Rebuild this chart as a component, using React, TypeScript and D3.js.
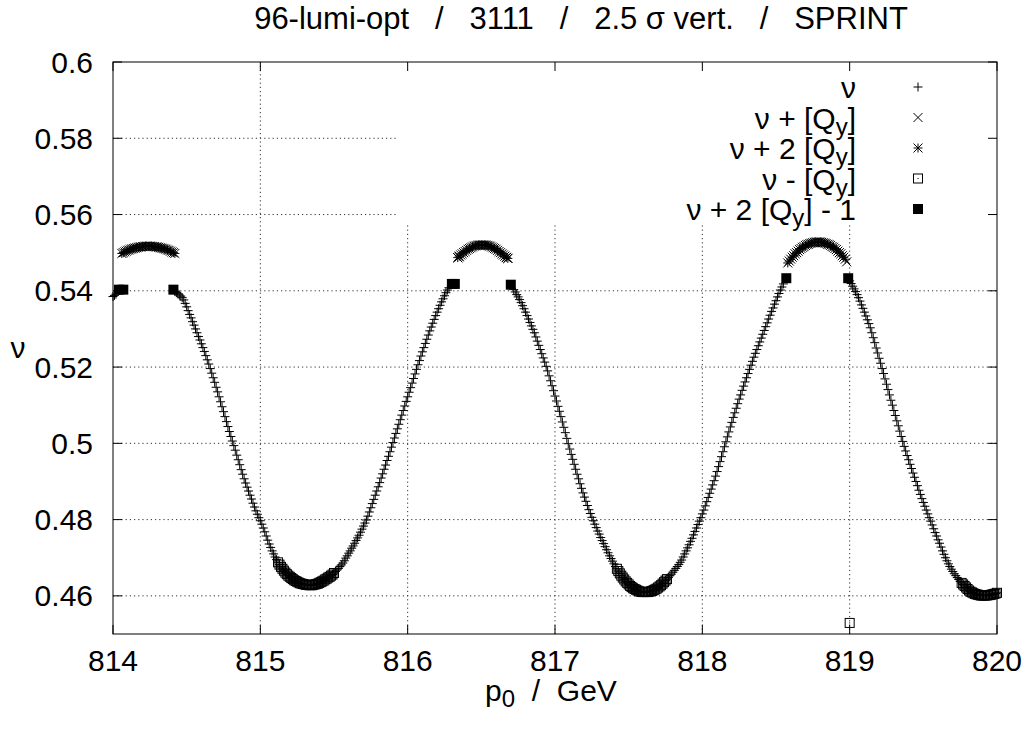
import React from "react";
import * as d3 from "d3";

// ---------------- data ----------------
const STEP = 0.01;
const xTicks = [814, 815, 816, 817, 818, 819, 820];
const yTicks = [0.6, 0.58, 0.56, 0.54, 0.52, 0.5, 0.48, 0.46];
const yTickLabels = ["0.6", "0.58", "0.56", "0.54", "0.52", "0.5", "0.48", "0.46"];

// main series "ν" (+), segments starting at given p0, sampled every STEP
const nuMainStartA = 814.0;
const nuMainA = [0.5385, 0.5388, 0.5391];
const nuMainStartB = 814.42;
const nuMainB = [
  0.5398, 0.5395, 0.5392, 0.5389, 0.5386, 0.5382, 0.5376, 0.5367, 0.5358, 0.5348,
  0.5338, 0.5329, 0.5319, 0.531, 0.53, 0.529, 0.528, 0.5271, 0.5261, 0.5251,
  0.5241, 0.523, 0.5219, 0.5208, 0.5196, 0.5184, 0.5172, 0.516, 0.5147, 0.5135,
  0.5122, 0.5109, 0.5096, 0.5083, 0.507, 0.5057, 0.5044, 0.5031, 0.5018, 0.5006,
  0.4994, 0.4982, 0.4969, 0.4957, 0.4944, 0.4931, 0.4919, 0.4907, 0.4896, 0.4885,
  0.4875, 0.4864, 0.4854, 0.4843, 0.4833, 0.4823, 0.4814, 0.4805, 0.4797, 0.4788,
  0.4778, 0.4768, 0.4757, 0.4746, 0.4736, 0.4727, 0.4718, 0.471, 0.4702, 0.4695,
  0.4688, 0.4682, 0.4676, 0.4671, 0.4666, 0.4661, 0.4657, 0.4653, 0.465, 0.4647,
  0.4644, 0.4641, 0.4639, 0.4637, 0.4635, 0.4633, 0.4632, 0.4631, 0.463, 0.4629,
  0.4629, 0.4628, 0.4628, 0.4628, 0.4629, 0.463, 0.4631, 0.4632, 0.4634, 0.4636,
  0.4638, 0.464, 0.4643, 0.4645, 0.4648, 0.465, 0.4653, 0.4656, 0.466, 0.4664,
  0.4668, 0.4672, 0.4677, 0.4681, 0.4686, 0.4692, 0.4699, 0.4705, 0.4712, 0.4718,
  0.4725, 0.4731, 0.4738, 0.4745, 0.4752, 0.4759, 0.4767, 0.4775, 0.4783, 0.4791,
  0.4799, 0.4809, 0.482, 0.4831, 0.4842, 0.4853, 0.4864, 0.4875, 0.4886, 0.4897,
  0.4909, 0.492, 0.4932, 0.4943, 0.4955, 0.4966, 0.4978, 0.499, 0.5002, 0.5014,
  0.5026, 0.5038, 0.505, 0.5062, 0.5074, 0.5086, 0.5098, 0.511, 0.5122, 0.5134,
  0.5146, 0.5158, 0.517, 0.5182, 0.5194, 0.5206, 0.5217, 0.5229, 0.524, 0.5251,
  0.5262, 0.5273, 0.5284, 0.5295, 0.5305, 0.5315, 0.5325, 0.5335, 0.5344, 0.5353,
  0.5362, 0.5371, 0.5379, 0.5387, 0.5395, 0.5402, 0.5408,
];
const nuMainStartC = 816.72;
const nuMainC = [
  0.5403, 0.5397, 0.539, 0.5384, 0.5377, 0.5369, 0.5361, 0.5353, 0.5344, 0.5335,
  0.5326, 0.5317, 0.5308, 0.5299, 0.529, 0.5279, 0.5268, 0.5257, 0.5246, 0.5235,
  0.5224, 0.5213, 0.5202, 0.519, 0.5177, 0.5164, 0.5151, 0.5138, 0.5124, 0.5111,
  0.5097, 0.5084, 0.507, 0.5056, 0.5042, 0.5028, 0.5013, 0.4999, 0.4985, 0.4971,
  0.4958, 0.4945, 0.4932, 0.4919, 0.4907, 0.4894, 0.4882, 0.487, 0.4859, 0.4848,
  0.4837, 0.4826, 0.4816, 0.4806, 0.4797, 0.4788, 0.4779, 0.477, 0.4762, 0.4753,
  0.4745, 0.4737, 0.4729, 0.4721, 0.4713, 0.4705, 0.4698, 0.4691, 0.4684, 0.4677,
  0.4671, 0.4665, 0.4659, 0.4653, 0.4648, 0.4643, 0.4638, 0.4634, 0.463, 0.4626,
  0.4623, 0.462, 0.4618, 0.4616, 0.4614, 0.4612, 0.4611, 0.461, 0.461, 0.461,
  0.461, 0.461, 0.4611, 0.4612, 0.4613, 0.4615, 0.4617, 0.4619, 0.4622, 0.4625,
  0.4628, 0.4632, 0.4636, 0.464, 0.4644, 0.4648, 0.4653, 0.4657, 0.4662, 0.4667,
  0.4672, 0.4677, 0.4682, 0.4688, 0.4694, 0.4702, 0.471, 0.4718, 0.4726, 0.4734,
  0.4743, 0.4751, 0.476, 0.4769, 0.4778, 0.4787, 0.4796, 0.4805, 0.4815, 0.4825,
  0.4836, 0.4847, 0.4858, 0.4869, 0.488, 0.4891, 0.4902, 0.4914, 0.4926, 0.4939,
  0.4952, 0.4965, 0.4978, 0.4991, 0.5004, 0.5017, 0.503, 0.5043, 0.5055, 0.5068,
  0.508, 0.5092, 0.5104, 0.5116, 0.5127, 0.5139, 0.515, 0.5161, 0.5172, 0.5183,
  0.5194, 0.5205, 0.5215, 0.5226, 0.5236, 0.5246, 0.5256, 0.5266, 0.5276, 0.5286,
  0.5296, 0.5306, 0.5316, 0.5326, 0.5336, 0.5346, 0.5355, 0.5365, 0.5374, 0.5384,
  0.5393, 0.5402, 0.541, 0.5418,
];
const nuMainStartD = 819.0;
const nuMainD = [
  0.5426, 0.5419, 0.5412, 0.5405, 0.5398, 0.539, 0.5382, 0.5373, 0.5363, 0.5354,
  0.5344, 0.5334, 0.5324, 0.5314, 0.5303, 0.529, 0.5277, 0.5264, 0.525, 0.5237,
  0.5223, 0.521, 0.5196, 0.5183, 0.5169, 0.5155, 0.5141, 0.5127, 0.5113, 0.51,
  0.5086, 0.5073, 0.5059, 0.5046, 0.5032, 0.5018, 0.5005, 0.4992, 0.498, 0.4968,
  0.4957, 0.4945, 0.4934, 0.4922, 0.4911, 0.49, 0.4889, 0.4877, 0.4866, 0.4855,
  0.4845, 0.4835, 0.4825, 0.4815, 0.4805, 0.4796, 0.4786, 0.4776, 0.4766, 0.4757,
  0.4747, 0.4738, 0.4728, 0.4718, 0.4709, 0.47, 0.4692, 0.4684, 0.4677, 0.467,
  0.4664, 0.4658, 0.4653, 0.4648, 0.4643, 0.4638, 0.4634, 0.463, 0.4626, 0.4622,
  0.4618, 0.4614, 0.4611, 0.4609, 0.4607, 0.4605, 0.4604, 0.4603, 0.4602, 0.4601,
  0.4601, 0.4601, 0.4601, 0.4601, 0.4602, 0.4602, 0.4603, 0.4604, 0.4605, 0.4606,
  0.4608,
];

// "ν + 2 [Qy]" (*) arches at the maxima
const nuStarStartA = 814.06;
const nuStarA = [
  0.5498, 0.55, 0.5502, 0.5504, 0.5506, 0.5507, 0.5509, 0.551, 0.5511, 0.5512,
  0.5513, 0.5514, 0.5515, 0.5515, 0.5516, 0.5516, 0.5517, 0.5517, 0.5517, 0.5517,
  0.5517, 0.5516, 0.5516, 0.5515, 0.5515, 0.5514, 0.5513, 0.5512, 0.5511, 0.551,
  0.5509, 0.5507, 0.5506, 0.5504, 0.5502, 0.55, 0.5498,
];
const nuStarStartB = 816.34;
const nuStarB = [
  0.5487, 0.5491, 0.5494, 0.5497, 0.55, 0.5503, 0.5506, 0.5509, 0.5511, 0.5513,
  0.5515, 0.5517, 0.5518, 0.5519, 0.552, 0.552, 0.552, 0.552, 0.552, 0.552,
  0.5519, 0.5518, 0.5517, 0.5515, 0.5513, 0.5511, 0.5509, 0.5506, 0.5503, 0.55,
  0.5497, 0.5494, 0.5491, 0.5488, 0.5485,
];
const nuStarStartC = 818.58;
const nuStarC = [
  0.5473, 0.5478, 0.5483, 0.5488, 0.5492, 0.5497, 0.55, 0.5504, 0.5508, 0.5511,
  0.5514, 0.5516, 0.5519, 0.5521, 0.5522, 0.5524, 0.5525, 0.5526, 0.5527, 0.5528,
  0.5528, 0.5528, 0.5528, 0.5527, 0.5526, 0.5525, 0.5524, 0.5522, 0.5521, 0.5519,
  0.5516, 0.5514, 0.5511, 0.5508, 0.5504, 0.55, 0.5497, 0.5492, 0.5488, 0.5483,
];

// "ν + [Qy]" (×)
const pCross = [816.34, 816.35, 816.67, 816.68, 818.98];
const nuCross = [0.5487, 0.5489, 0.5487, 0.5485, 0.5476];

// "ν - [Qy]" (hollow boxes) in the minima
const nuBoxStartA = 815.12;
const nuBoxA = [
  0.4688, 0.4682, 0.4676, 0.4671, 0.4666, 0.4661, 0.4657, 0.4653, 0.465, 0.4647,
  0.4644, 0.4641, 0.4639, 0.4637, 0.4635, 0.4633, 0.4632, 0.4631, 0.463, 0.4629,
  0.4629, 0.4628, 0.4628, 0.4628, 0.4629, 0.463, 0.4631, 0.4632, 0.4634, 0.4636,
  0.4638, 0.464, 0.4643, 0.4645, 0.4648, 0.465, 0.4653, 0.4656, 0.466,
];
const nuBoxStartB = 817.42;
const nuBoxB = [
  0.4671, 0.4665, 0.4659, 0.4653, 0.4648, 0.4643, 0.4638, 0.4634, 0.463, 0.4626,
  0.4623, 0.462, 0.4618, 0.4616, 0.4614, 0.4612, 0.4611, 0.461, 0.461, 0.461,
  0.461, 0.461, 0.4611, 0.4612, 0.4613, 0.4615, 0.4617, 0.4619, 0.4622, 0.4625,
  0.4628, 0.4632, 0.4636, 0.464, 0.4644,
];
const nuBoxStartC = 819.76;
const nuBoxC = [
  0.4634, 0.463, 0.4626, 0.4622, 0.4618, 0.4614, 0.4611, 0.4609, 0.4607, 0.4605,
  0.4604, 0.4603, 0.4602, 0.4601, 0.4601, 0.4601, 0.4601, 0.4601, 0.4602, 0.4602,
  0.4603, 0.4604, 0.4605, 0.4606, 0.4608,
];
const pBoxExtra = [819.0];
const nuBoxExtra = [0.4529];

// "ν + 2 [Qy] - 1" (filled boxes)
const pFilled = [814.04, 814.07, 814.41, 816.3, 816.32, 816.7, 818.57, 818.99];
const nuFilled = [0.5403, 0.5403, 0.5403, 0.5418, 0.5418, 0.5416, 0.5433, 0.5433];

// ---------------- helpers ----------------
type Pt = [number, number];
const seg = (start: number, vals: number[]): Pt[] =>
  vals.map((v, i) => [+(start + i * STEP).toFixed(3), v]);
const pairs = (ps: number[], vs: number[]): Pt[] => ps.map((p, i) => [p, vs[i]]);

const mainPts = [
  ...seg(nuMainStartA, nuMainA),
  ...seg(nuMainStartB, nuMainB),
  ...seg(nuMainStartC, nuMainC),
  ...seg(nuMainStartD, nuMainD),
];
const starPts = [
  ...seg(nuStarStartA, nuStarA),
  ...seg(nuStarStartB, nuStarB),
  ...seg(nuStarStartC, nuStarC),
];
const crossPts = pairs(pCross, nuCross);
const boxPts = [
  ...seg(nuBoxStartA, nuBoxA),
  ...seg(nuBoxStartB, nuBoxB),
  ...seg(nuBoxStartC, nuBoxC),
  ...pairs(pBoxExtra, nuBoxExtra),
];
const filledPts = pairs(pFilled, nuFilled);

const W = 1026;
const H = 732;
const L = 113, R = 997, T = 62, B = 634;
const x = d3.scaleLinear().domain([814, 820]).range([L, R]);
const y = d3.scaleLinear().domain([0.45, 0.6]).range([B, T]);

const FONT = "'Liberation Sans', Arial, Helvetica, sans-serif";
const S = 4.5;
const plusPath = `M${-S},0H${S}M0,${-S}V${S}`;
const crossPath = `M${-S},${-S}L${S},${S}M${-S},${S}L${S},${-S}`;
const starPath = plusPath + crossPath;

function Marker({ kind, cx, cy }: { kind: string; cx: number; cy: number }) {
  const t = `translate(${cx},${cy})`;
  if (kind === "plus") return <path d={plusPath} transform={t} stroke="#000" strokeWidth={1} fill="none" />;
  if (kind === "cross") return <path d={crossPath} transform={t} stroke="#000" strokeWidth={1} fill="none" />;
  if (kind === "star") return <path d={starPath} transform={t} stroke="#000" strokeWidth={1} fill="none" />;
  if (kind === "box")
    return (
      <g transform={t}>
        <rect x={-S} y={-S} width={2 * S} height={2 * S} stroke="#000" strokeWidth={1} fill="none" />
        <rect x={-0.5} y={-0.5} width={1} height={1} fill="#000" />
      </g>
    );
  return <rect x={cx - 5} y={cy - 5} width={10} height={10} fill="#000" />;
}

const legendRows = [
  { kind: "plus", parts: [["ν", ""]] },
  { kind: "cross", parts: [["ν + [Q", ""], ["y", "sub"], ["]", ""]] },
  { kind: "star", parts: [["ν + 2 [Q", ""], ["y", "sub"], ["]", ""]] },
  { kind: "box", parts: [["ν - [Q", ""], ["y", "sub"], ["]", ""]] },
  { kind: "filled", parts: [["ν + 2 [Q", ""], ["y", "sub"], ["] - 1", ""]] },
];

export default function App() {
  const fs = 30;
  const subFs = 24;
  return (
    <svg
      width={W}
      height={H}
      style={{ position: "absolute", left: 0, top: 0, background: "#fff" }}
      fontFamily={FONT}
    >
      <rect x={0} y={0} width={W} height={H} fill="#fff" />
      {/* grid */}
      <g stroke="#333" strokeWidth={1} strokeDasharray="1.2,3">
        {xTicks.slice(1, -1).map((t) => (
          <line key={"gx" + t} x1={x(t)} x2={x(t)} y1={B} y2={T} />
        ))}
        {yTicks.slice(1).map((t) => (
          <line key={"gy" + t} x1={L} x2={R} y1={y(t)} y2={y(t)} />
        ))}
      </g>
      {/* opaque key area */}
      <rect x={396} y={T} width={R - 396} height={223 - T} fill="#fff" />
      {/* data */}
      <g>
        {boxPts.map((d, i) => <Marker key={"b" + i} kind="box" cx={x(d[0])} cy={y(d[1])} />)}
        {mainPts.map((d, i) => <Marker key={"m" + i} kind="plus" cx={x(d[0])} cy={y(d[1])} />)}
        {crossPts.map((d, i) => <Marker key={"c" + i} kind="cross" cx={x(d[0])} cy={y(d[1])} />)}
        {starPts.map((d, i) => <Marker key={"s" + i} kind="star" cx={x(d[0])} cy={y(d[1])} />)}
        {filledPts.map((d, i) => <Marker key={"f" + i} kind="filled" cx={x(d[0])} cy={y(d[1])} />)}
      </g>
      {/* border and ticks */}
      <rect x={L} y={T} width={R - L} height={B - T} fill="none" stroke="#000" strokeWidth={1} />
      <g stroke="#000" strokeWidth={1}>
        {xTicks.map((t) => (
          <g key={"tx" + t}>
            <line x1={x(t)} x2={x(t)} y1={B} y2={B - 9} />
            <line x1={x(t)} x2={x(t)} y1={T} y2={T + 9} />
          </g>
        ))}
        {yTicks.map((t) => (
          <g key={"ty" + t}>
            <line x1={L} x2={L + 9} y1={y(t)} y2={y(t)} />
            <line x1={R} x2={R - 9} y1={y(t)} y2={y(t)} />
          </g>
        ))}
      </g>
      {/* tick labels */}
      <g fontSize={fs} fill="#000">
        {xTicks.map((t) => (
          <text key={"lx" + t} x={x(t)} y={671} textAnchor="middle">
            {t}
          </text>
        ))}
        {yTicks.map((t, i) => (
          <text key={"ly" + t} x={93} y={y(t) + 10.5} textAnchor="end">
            {yTickLabels[i]}
          </text>
        ))}
      </g>
      {/* title and axis labels */}
      <text x={581} y={29} fontSize={31} textAnchor="middle" style={{ whiteSpace: "pre" }}>
        {"96-lumi-opt   /   3111   /   2.5 σ vert.   /   SPRINT"}
      </text>
      <text x={551} y={701} fontSize={fs} textAnchor="middle" style={{ whiteSpace: "pre" }}>
        p<tspan fontSize={subFs} dy={6}>0</tspan>
        <tspan dy={-6}>{"  /  GeV"}</tspan>
      </text>
      <text x={18} y={358} fontSize={fs} textAnchor="middle">
        ν
      </text>
      {/* legend */}
      <g fontSize={fs}>
        {legendRows.map((r, i) => {
          const cy = 87 + i * 30.5;
          return (
            <g key={"lg" + i}>
              <text x={856} y={cy + 11} textAnchor="end" style={{ whiteSpace: "pre" }}>
                {r.parts.map((p, j) => {
                  const prevSub = j > 0 && r.parts[j - 1][1] === "sub";
                  if (p[1] === "sub")
                    return (
                      <tspan key={j} fontSize={subFs} dy={6}>
                        {p[0]}
                      </tspan>
                    );
                  return (
                    <tspan key={j} dy={prevSub ? -6 : 0}>
                      {p[0]}
                    </tspan>
                  );
                })}
              </text>
              <Marker kind={r.kind} cx={918} cy={cy} />
            </g>
          );
        })}
      </g>
    </svg>
  );
}
